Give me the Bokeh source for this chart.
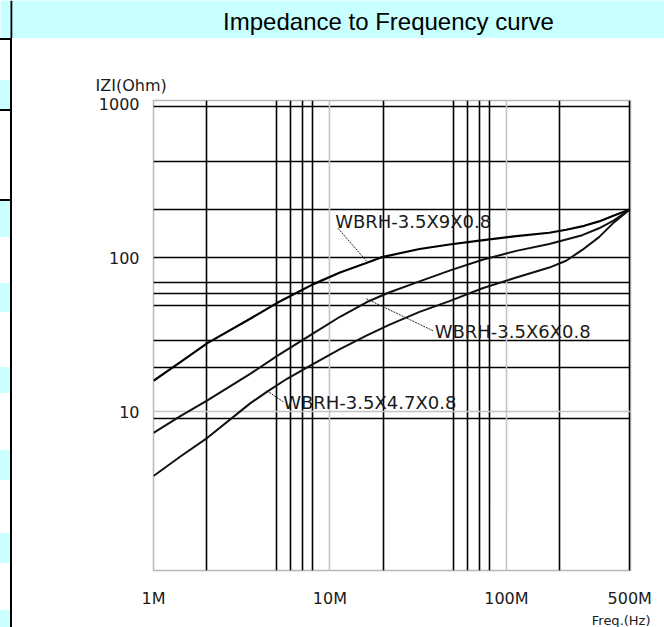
from bokeh.plotting import figure
from bokeh.models import Grid, FixedTicker, CustomJSTickFormatter, Range1d, Title, Div
from bokeh.layouts import column, row
from bokeh.core.properties import value
from bokeh.embed import file_html
from bokeh.resources import INLINE

# ---------------- data ----------------
x_ticks = [1e6, 1e7, 1e8, 5e8]
y_ticks = [10, 100, 1000]
dark_x = [2e6, 5e6, 6e6, 7e6, 8e6, 2e7, 5e7, 6e7, 7e7, 8e7, 2e8, 5e8]
gray_x = [1e7, 1e8]
dark_y = [955, 423, 206, 100, 69, 59, 49, 29, 19.5, 9]
gray_y = [10]

# WBRH-3.5X9X0.8
f_9 = [1e6, 1.42e6, 2.02e6, 3.53e6, 5.0e6, 8.0e6, 1.14e7, 1.62e7, 2.0e7, 3.22e7,
       4.76e7, 7.03e7, 1.138e8, 1.75e8, 2.18e8, 2.76e8, 3.35e8, 4.07e8, 5e8]
z_9 = [15.9, 21.0, 27.9, 40.2, 50.8, 67.2, 80.2, 92.9, 101.5, 114.1,
       122.0, 129.4, 138.2, 145.5, 152.1, 161.4, 172.4, 188.3, 206]

# WBRH-3.5X6X0.8
f_6 = [1e6, 1.42e6, 2.02e6, 3.53e6, 5.0e6, 8.0e6, 1.14e7, 1.62e7, 2.18e7, 3.22e7,
       4.76e7, 7.32e7, 1.138e8, 1.75e8, 2.69e8, 3.35e8, 4.07e8, 5e8]
z_6 = [7.29, 9.36, 11.84, 17.6, 23.0, 32.2, 41.4, 51.6, 59.7, 70.3,
       82.6, 97.1, 110.9, 122.9, 140.3, 155.5, 174.9, 206]

# WBRH-3.5X4.7X0.8
f_47 = [1e6, 1.42e6, 2.02e6, 3.53e6, 4.41e6, 5.71e6, 8.01e6, 1.139e7, 1.62e7, 2.18e7,
        3.22e7, 4.76e7, 7.32e7, 1.138e8, 1.75e8, 2.18e8, 2.69e8, 3.35e8, 4.07e8, 5e8]
z_47 = [3.82, 5.12, 6.77, 11.33, 13.52, 16.37, 20.4, 25.5, 31.3, 36.8,
        44.5, 52.3, 63.4, 74.5, 86.4, 95.7, 112.5, 136.2, 169.9, 206]

names = ["WBRH-3.5X9X0.8", "WBRH-3.5X6X0.8", "WBRH-3.5X4.7X0.8"]
title_text = "Impedance to Frequency curve"

FONT = "DejaVu Sans"
TXT = "#1a1a1a"
CYAN = "#c8ffff"


def bare(fig):
    fig.xaxis.visible = False
    fig.yaxis.visible = False
    fig.xgrid.visible = False
    fig.ygrid.visible = False
    fig.outline_line_color = None
    fig.min_border = 0


# ---------------- header band ----------------
head = figure(width=664, height=38, x_range=Range1d(0, 664), y_range=Range1d(38, 0),
              output_backend="svg", toolbar_location=None)
bare(head)
head.background_fill_color = CYAN
head.border_fill_color = CYAN
head.quad(left=[10], right=[11.8], top=[0], bottom=[38], fill_color="black", line_color=None)
head.text(x=[388], y=[21], text=[title_text], text_font=value("Liberation Sans"),
          text_font_size="24px", text_color="black", text_align="center",
          text_baseline="middle")

# ---------------- left page strip (table cells of the source page) ----------------
cell_tops = [42, 162, 245, 329, 412, 495, 572]
cell_heights = [30, 37, 29, 26, 30, 30, 17]
rule_tops = [0, 71, 161]
html = '<div style="position:relative;width:12px;height:589px;background:white;">'
for t, h in zip(cell_tops, cell_heights):
    html += ('<div style="position:absolute;left:0;top:%dpx;width:10px;height:%dpx;'
             'background:%s;"></div>' % (t, h, CYAN))
for t in rule_tops:
    html += ('<div style="position:absolute;left:0;top:%dpx;width:10px;height:1.5px;'
             'background:black;"></div>' % t)
html += ('<div style="position:absolute;left:10px;top:0;width:1.8px;height:589px;'
         'background:black;"></div></div>')
strip = Div(text=html, width=12, height=589, margin=0)

# ---------------- chart ----------------
p = figure(width=652, height=589, x_axis_type="log", y_axis_type="log",
           x_range=Range1d(1e6, 5.05e8), y_range=Range1d(0.93, 1052),
           output_backend="svg", toolbar_location=None,
           min_border_left=141, min_border_right=34,
           min_border_top=62, min_border_bottom=49)
p.background_fill_color = "white"
p.border_fill_color = "white"
p.outline_line_color = "#b8b8b8"
p.outline_line_width = 1.5

for ax in (p.xaxis[0], p.yaxis[0]):
    ax.axis_line_color = None
    ax.major_tick_line_color = None
    ax.minor_tick_line_color = None
    ax.major_tick_out = 0
    ax.major_tick_in = 0
    ax.minor_tick_out = 0
    ax.major_label_text_font = FONT
    ax.major_label_text_font_size = "16px"
    ax.major_label_text_color = TXT
p.xaxis.major_label_standoff = 18
p.yaxis.major_label_standoff = 14

p.xaxis.ticker = FixedTicker(ticks=x_ticks, minor_ticks=[])
p.xaxis.formatter = CustomJSTickFormatter(code="return Math.round(tick/1e6) + 'M'")
p.yaxis.ticker = FixedTicker(ticks=y_ticks, minor_ticks=[])
p.yaxis.formatter = CustomJSTickFormatter(code="return String(Math.round(tick))")

p.xgrid.ticker = FixedTicker(ticks=dark_x, minor_ticks=[])
p.ygrid.ticker = FixedTicker(ticks=dark_y, minor_ticks=[])
for g in (p.xgrid[0], p.ygrid[0]):
    g.grid_line_color = "black"
    g.grid_line_width = 1.6
    g.level = "underlay"
gx = Grid(dimension=0, ticker=FixedTicker(ticks=gray_x, minor_ticks=[]),
          grid_line_color="#c4c4c4", grid_line_width=1.6, level="underlay")
gy = Grid(dimension=1, ticker=FixedTicker(ticks=gray_y, minor_ticks=[]),
          grid_line_color="#c4c4c4", grid_line_width=1.6, level="underlay")
p.add_layout(gx)
p.add_layout(gy)

# curves
p.line(f_9, z_9, line_color="black", line_width=2.2, line_join="round")
p.line(f_6, z_6, line_color="#111111", line_width=2, line_join="round")
p.line(f_47, z_47, line_color="#111111", line_width=2, line_join="round")

# curve labels with leader lines
p.segment(x0=[1.11e7, 1.61e7, 4.39e6], y0=[155.6, 54.2, 13.7],
          x1=[1.61e7, 3.83e7, 5.43e6], y1=[95.3, 33.6, 11.6],
          line_color="#222222", line_width=1, line_dash="2 1")
p.text(x=[1.07e7, 3.92e7, 5.43e6], y=[172, 33.2, 11.5], text=names,
       text_font=value(FONT), text_font_size="18px", text_color=TXT,
       text_align="left", text_baseline="middle")

p.add_layout(Title(text="IZI(Ohm)", align="left", offset=-58, standoff=11,
                   text_font=FONT, text_font_size="16px", text_color=TXT,
                   text_font_style="normal"), "above")
p.add_layout(Title(text="Freq.(Hz)", align="right", offset=-20, standoff=0,
                   text_font=FONT, text_font_size="13px", text_color=TXT,
                   text_font_style="normal"), "below")

layout = column(head, row(strip, p, spacing=0), spacing=0)
open("out.html", "w").write(file_html(layout, INLINE))
